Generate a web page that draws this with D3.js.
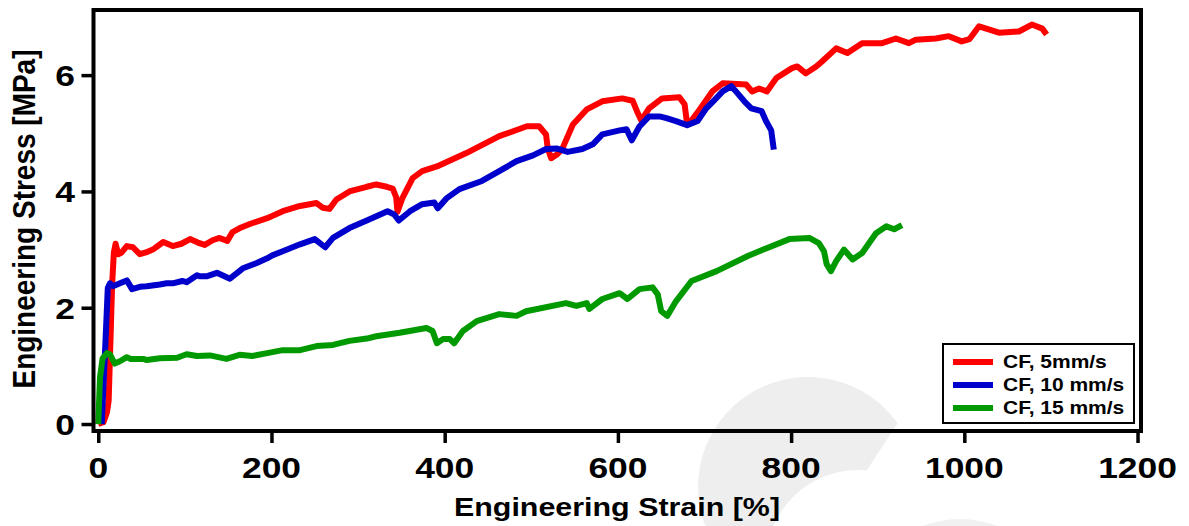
<!DOCTYPE html>
<html>
<head>
<meta charset="utf-8">
<script src="https://cdn.jsdelivr.net/npm/d3@7"></script>
<style>
  html, body { margin: 0; padding: 0; background: #fff; }
  svg { display: block; font-family: "Liberation Sans", Arial, sans-serif; font-weight: bold; }
</style>
</head>
<body>
<div class="chart-container"></div>
<script>
// data
const xTicks = [0, 200, 400, 600, 800, 1000, 1200];
const yTicks = [0, 2, 4, 6];
const seriesNames = ['CF, 5mm/s', 'CF, 10 mm/s', 'CF, 15 mm/s'];
const seriesColors = ['#ff0000', '#0000cc', '#009900'];

const strain5 = [0, 6, 10, 12, 14, 16, 18, 20, 23, 27, 33, 40, 48, 55, 63, 75, 86, 96, 106, 115, 123, 132, 140, 149, 155, 165, 175, 195, 213, 233, 252, 259, 267, 275, 290, 310, 321, 333, 340, 344, 345.5, 351, 363, 374, 391, 425, 463, 495, 509, 517, 519, 523, 530, 536, 548, 564, 582, 605, 617, 622, 627, 636, 651, 671, 677, 680, 686, 694, 709, 721, 748, 755, 763, 772, 783, 801, 807, 817, 829, 836, 852, 865, 882, 893, 905, 921, 936, 944, 967, 982, 997, 1006, 1017, 1040, 1063, 1078, 1090, 1095];
const stress5 = [0, 0.03, 0.2, 0.4, 1.4, 2.4, 2.95, 3.1, 2.92, 2.95, 3.06, 3.04, 2.92, 2.95, 3.0, 3.13, 3.06, 3.1, 3.18, 3.12, 3.08, 3.16, 3.2, 3.15, 3.3, 3.38, 3.44, 3.54, 3.66, 3.75, 3.8, 3.72, 3.7, 3.86, 4.0, 4.08, 4.12, 4.08, 4.05, 3.9, 3.65, 3.88, 4.23, 4.35, 4.43, 4.66, 4.95, 5.12, 5.12, 4.98, 4.74, 4.57, 4.64, 4.74, 5.15, 5.41, 5.55, 5.6, 5.56, 5.38, 5.22, 5.43, 5.6, 5.62, 5.5, 5.15, 5.24, 5.4, 5.72, 5.86, 5.84, 5.72, 5.77, 5.72, 5.95, 6.12, 6.15, 6.03, 6.15, 6.24, 6.46, 6.38, 6.55, 6.55, 6.55, 6.63, 6.55, 6.61, 6.63, 6.67, 6.58, 6.62, 6.84, 6.73, 6.75, 6.87, 6.8, 6.7];

const strain10 = [4, 7.7, 11, 13.5, 17, 25, 33, 39, 48, 56, 71, 79, 86, 97, 102, 114, 117, 125, 137, 152, 163, 167, 183, 195, 201, 213, 233, 250, 262, 271, 290, 310, 334, 342, 347, 360, 374, 388, 392, 402, 417, 443, 463, 483, 502, 517, 529, 542, 559, 571, 582, 602, 610, 616, 625, 636, 648, 656, 667, 680, 692, 702, 710, 721, 731, 738, 746, 754, 766, 771, 777, 780];
const stress10 = [0, 1.2, 2.34, 2.42, 2.37, 2.42, 2.47, 2.32, 2.36, 2.37, 2.4, 2.42, 2.42, 2.46, 2.44, 2.56, 2.54, 2.54, 2.6, 2.5, 2.63, 2.68, 2.77, 2.85, 2.9, 2.97, 3.09, 3.18, 3.04, 3.2, 3.37, 3.5, 3.66, 3.6, 3.5, 3.66, 3.78, 3.81, 3.71, 3.88, 4.04, 4.18, 4.35, 4.52, 4.62, 4.73, 4.74, 4.68, 4.73, 4.81, 4.98, 5.05, 5.07, 4.88, 5.12, 5.29, 5.29, 5.26, 5.21, 5.14, 5.21, 5.43, 5.55, 5.72, 5.81, 5.69, 5.55, 5.43, 5.38, 5.21, 5.05, 4.72];

const strain15 = [0, 2, 5, 10, 13.5, 19, 25, 33, 37, 52, 56, 71, 91, 102, 114, 129, 148, 163, 178, 195, 213, 233, 252, 271, 290, 310, 321, 348, 379, 386, 391, 398, 406, 411, 421, 437, 463, 483, 494, 540, 552, 564, 567, 582, 602, 611, 625, 640, 646, 650, 657, 667, 685, 714, 750, 771, 798, 821, 832, 838, 841, 846, 852, 861, 871, 882, 898, 910, 919, 928];
const stress15 = [0, 0.8, 1.13, 1.22, 1.2, 1.04, 1.08, 1.15, 1.12, 1.12, 1.1, 1.13, 1.14, 1.2, 1.17, 1.18, 1.12, 1.19, 1.17, 1.22, 1.27, 1.27, 1.34, 1.36, 1.43, 1.47, 1.51, 1.57, 1.65, 1.6, 1.39, 1.46, 1.46, 1.39, 1.6, 1.77, 1.89, 1.86, 1.94, 2.08, 2.03, 2.08, 1.98, 2.15, 2.25, 2.15, 2.32, 2.35, 2.23, 1.94, 1.86, 2.11, 2.46, 2.63, 2.89, 3.02, 3.18, 3.2, 3.11, 2.97, 2.75, 2.63, 2.8, 3.0, 2.83, 2.94, 3.28, 3.4, 3.35, 3.42];

const series = [
    { name: seriesNames[0], color: seriesColors[0], pts: strain5.map((s, i) => [s, stress5[i]]) },
    { name: seriesNames[1], color: seriesColors[1], pts: strain10.map((s, i) => [s, stress10[i]]) },
    { name: seriesNames[2], color: seriesColors[2], pts: strain15.map((s, i) => [s, stress15[i]]) }
];

const W = 1189, H = 526;
const frame = { left: 93.5, right: 1141, top: 10, bottom: 431 };
const deg = Math.PI / 180;

const svg = d3.select('.chart-container')
    .append('svg')
    .attr('width', W)
    .attr('height', H);

// faint watermark behind the plot (a big "C" crescent and a second arc)
const wm = d3.path();
wm.arc(808, 487, 110, 160 * deg, 324.6 * deg);
wm.lineTo(867, 470);
wm.arc(858, 562, 92, 275.6 * deg, 178 * deg, true);
wm.closePath();
svg.append('path')
    .attr('d', wm.toString())
    .attr('fill', '#eeeeee');

svg.append('path')
    .attr('transform', 'translate(960,620)')
    .attr('d', d3.arc()({ innerRadius: 60, outerRadius: 101, startAngle: -50 * deg, endAngle: 50 * deg }))
    .attr('fill', '#f1f1f1');

const x = d3.scaleLinear()
    .domain([-5.5, 1204])
    .range([frame.left, frame.right]);

const y = d3.scaleLinear()
    .domain([-0.12, 7.12])
    .range([frame.bottom, frame.top]);

// x-axis ticks and labels
const xAxis = svg.append('g')
    .attr('transform', `translate(0,${frame.bottom})`)
    .call(d3.axisBottom(x).tickValues(xTicks).tickSize(12).tickFormat(''));
xAxis.select('.domain').remove();
xAxis.selectAll('line').attr('stroke', '#000').attr('stroke-width', 3.5);

svg.append('g')
    .selectAll('text')
    .data(xTicks)
    .enter()
    .append('text')
    .attr('transform', d => `translate(${x(d)},478) scale(1.18,1)`)
    .attr('text-anchor', 'middle')
    .style('font-size', '30px')
    .text(d => d);

// y-axis ticks and labels
const yAxis = svg.append('g')
    .attr('transform', `translate(${frame.left},0)`)
    .call(d3.axisLeft(y).tickValues(yTicks).tickSize(12).tickFormat(''));
yAxis.select('.domain').remove();
yAxis.selectAll('line').attr('stroke', '#000').attr('stroke-width', 3.5);

svg.append('g')
    .selectAll('text')
    .data(yTicks)
    .enter()
    .append('text')
    .attr('transform', d => `translate(75,${y(d) + 11}) scale(1.18,1)`)
    .attr('text-anchor', 'end')
    .style('font-size', '30px')
    .text(d => d);

// axis titles
svg.append('text')
    .attr('transform', 'translate(617,516) scale(1.17,1)')
    .attr('text-anchor', 'middle')
    .style('font-size', '26px')
    .text('Engineering Strain [%]');

svg.append('text')
    .attr('transform', 'translate(35,219) scale(1.13,1) rotate(-90)')
    .attr('text-anchor', 'middle')
    .style('font-size', '28px')
    .text('Engineering Stress [MPa]');

// curves
const line = d3.line()
    .x(d => x(d[0]))
    .y(d => y(d[1]));

svg.append('g')
    .selectAll('path')
    .data(series)
    .enter()
    .append('path')
    .attr('d', d => line(d.pts))
    .attr('fill', 'none')
    .attr('stroke', d => d.color)
    .attr('stroke-width', 6)
    .attr('stroke-linejoin', 'round');

// plot frame
svg.append('rect')
    .attr('x', frame.left)
    .attr('y', frame.top)
    .attr('width', frame.right - frame.left)
    .attr('height', frame.bottom - frame.top)
    .attr('fill', 'none')
    .attr('stroke', '#000')
    .attr('stroke-width', 4);

// legend
const legend = svg.append('g');
legend.append('rect')
    .attr('x', 943)
    .attr('y', 344)
    .attr('width', 191)
    .attr('height', 79)
    .attr('fill', '#fff')
    .attr('stroke', '#000')
    .attr('stroke-width', 2);

const item = legend.selectAll('.item')
    .data(series)
    .enter()
    .append('g')
    .attr('class', 'item')
    .attr('transform', (d, i) => `translate(953,${362 + i * 23})`);

item.append('line')
    .attr('x1', 0)
    .attr('x2', 40)
    .attr('stroke', d => d.color)
    .attr('stroke-width', 6);

item.append('text')
    .attr('transform', 'translate(50,6) scale(1.2,1)')
    .style('font-size', '17.5px')
    .text(d => d.name);
</script>
</body>
</html>
